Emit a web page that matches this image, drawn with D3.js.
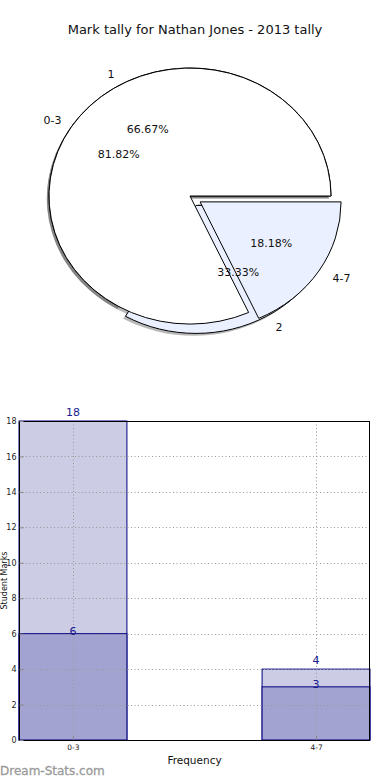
<!DOCTYPE html>
<html><head><meta charset="utf-8">
<script src="https://cdn.jsdelivr.net/npm/d3@7"></script>
<style>body{margin:0;background:#fff}svg{display:block}text{font-family:"DejaVu Sans",sans-serif}</style>
</head><body>
<svg id="c" width="390" height="780"></svg>
<script>
const title = "Mark tally for Nathan Jones - 2013 tally";
// pie A (drawn first, underneath)
const pieALabels = ["1", "2"];
const pieAValues = [66.67, 33.33];
const pieAExplode = [0, 0.085];
// pie B (drawn on top)
const pieBLabels = ["0-3", "4-7"];
const pieBValues = [81.82, 18.18];
const pieBExplode = [0, 0.085];
const pieColors = ["#ffffff", "#eaf0ff"];

// bar chart
const categories = ["0-3", "4-7"];
const totals = [18, 4];
const parts = [6, 3];
const yTicks = [0, 2, 4, 6, 8, 10, 12, 14, 16, 18];
const xLabel = "Frequency";
const yLabel = "Student Marks";
const watermark = "Dream-Stats.com";

const svg = d3.select("#c");
svg.append("text").attr("x", 195).attr("y", 34).attr("text-anchor", "middle")
  .attr("font-size", 13).attr("fill", "#111").text(title);

// ---- pies ----
const cx = 190, cy = 196, rx = 141, ry = 128;
const pie = d3.pie().sort(null).startAngle(Math.PI / 2).endAngle(Math.PI / 2 - 2 * Math.PI);
const arc = d3.arc().innerRadius(0).outerRadius(1);
const pies = [
  {labels: pieALabels, values: pieAValues, explode: pieAExplode},
  {labels: pieBLabels, values: pieBValues, explode: pieBExplode}
];
function off(d, e) {
  const m = (d.startAngle + d.endAngle) / 2;
  const p = d3.pointRadial(m, e);
  return [p[0] * rx, p[1] * ry];
}
const shadowLayer = svg.append("g");
const wedgeLayer = svg.append("g");
const textLayer = svg.append("g");
pies.forEach(P => {
  const arcs = pie(P.values);
  arcs.forEach((d, i) => {
    const o = off(d, P.explode[i]);
    shadowLayer.append("path")
      .attr("transform", `translate(${cx + o[0] - 2.2},${cy + o[1] + 2.4}) scale(${rx},${ry})`)
      .attr("d", arc(d)).attr("fill", "#000").attr("fill-opacity", 0.28);
    wedgeLayer.append("path")
      .attr("transform", `translate(${cx + o[0]},${cy + o[1]}) scale(${rx},${ry})`)
      .attr("d", arc(d)).attr("fill", pieColors[i]).attr("stroke", "#000")
      .attr("stroke-width", 1).attr("vector-effect", "non-scaling-stroke");
    const m = (d.startAngle + d.endAngle) / 2;
    const lp = d3.pointRadial(m, 1.1);
    const lx = cx + o[0] + lp[0] * rx, ly = cy + o[1] + lp[1] * ry;
    textLayer.append("text").attr("x", lx + (lp[0] >= 0 ? 2 : 2)).attr("y", ly).attr("dy", "0.35em")
      .attr("text-anchor", lp[0] >= 0 ? "start" : "end")
      .attr("font-size", 11).attr("fill", "#111").text(P.labels[i]);
    const pp = d3.pointRadial(m, 0.6);
    textLayer.append("text").attr("x", cx + o[0] + pp[0] * rx).attr("y", cy + o[1] + pp[1] * ry)
      .attr("dy", "0.35em").attr("text-anchor", "middle")
      .attr("font-size", 11).attr("fill", "#111").text(P.values[i].toFixed(2) + "%");
  });
});

// ---- bar chart ----
const L = 19, R = 370, T = 421, B = 740;
const bw = 0.444;
const x = d3.scaleLinear().domain([-bw / 2, categories.length - 1 + bw / 2]).range([L, R]);
const y = d3.scaleLinear().domain([0, 18]).range([B, T]);
const g = svg.append("g");
categories.forEach((c, i) => {
  g.append("rect").attr("x", x(i - bw / 2)).attr("y", y(totals[i]))
    .attr("width", x(i + bw / 2) - x(i - bw / 2)).attr("height", y(0) - y(totals[i]))
    .attr("fill", "#ccccE4").attr("stroke", "#000080").attr("stroke-width", 1);
  g.append("rect").attr("x", x(i - bw / 2)).attr("y", y(parts[i]))
    .attr("width", x(i + bw / 2) - x(i - bw / 2)).attr("height", y(0) - y(parts[i]))
    .attr("fill", "#a3a3d1").attr("stroke", "#000080").attr("stroke-width", 1);
});
const grid = g.append("g").attr("stroke", "#999").attr("stroke-width", 1).attr("stroke-dasharray", "1,2.5");
yTicks.forEach(t => grid.append("line").attr("x1", L).attr("x2", R).attr("y1", Math.round(y(t)) + 0.5).attr("y2", Math.round(y(t)) + 0.5));
categories.forEach((c, i) => grid.append("line").attr("x1", Math.round(x(i)) + 0.5).attr("x2", Math.round(x(i)) + 0.5).attr("y1", T).attr("y2", B));
categories.forEach((c, i) => {
  g.append("text").attr("x", x(i)).attr("y", y(totals[i]) - 5).attr("text-anchor", "middle")
    .attr("font-size", 11).attr("fill", "#1a1a8c").text(totals[i]);
  g.append("text").attr("x", x(i)).attr("y", y(parts[i]) + 1).attr("text-anchor", "middle")
    .attr("font-size", 11).attr("fill", "#1a1a8c").text(parts[i]);
});
g.append("rect").attr("x", L + 0.5).attr("y", T + 0.5).attr("width", R - L - 1).attr("height", B - T)
  .attr("fill", "none").attr("stroke", "#000").attr("stroke-width", 1);
const ya = d3.axisLeft(y).tickValues(yTicks).tickSize(-4).tickPadding(3);
const yg = g.append("g").attr("transform", `translate(${L + 0.5},0)`).call(ya);
yg.select(".domain").remove();
yg.selectAll(".tick line").attr("stroke", "#888");
yg.selectAll(".tick text").attr("font-size", 8).attr("fill", "#222").attr("font-family", "Liberation Sans, sans-serif");
const xa = d3.axisBottom(x).tickValues(categories.map((c, i) => i)).tickFormat((d) => categories[d]).tickSize(-4).tickPadding(5);
const xg = g.append("g").attr("transform", `translate(0,${B})`).call(xa);
xg.select(".domain").remove();
xg.selectAll(".tick line").attr("stroke", "#888");
xg.selectAll(".tick text").attr("font-size", 7.5).attr("fill", "#222").attr("font-family", "Liberation Sans, sans-serif");
g.append("text").attr("x", (L + R) / 2).attr("y", 764).attr("text-anchor", "middle")
  .attr("font-size", 10.5).attr("fill", "#111").text(xLabel);
g.append("text").attr("transform", `translate(7,${(T + B) / 2}) rotate(-90)`).attr("text-anchor", "middle")
  .attr("font-size", 8).attr("fill", "#111").text(yLabel);
svg.append("text").attr("x", 0).attr("y", 775).attr("font-size", 12)
  .attr("fill", "#9a9a9a").attr("stroke", "#9a9a9a").attr("stroke-width", 0.3).text(watermark);
</script>
</body></html>
